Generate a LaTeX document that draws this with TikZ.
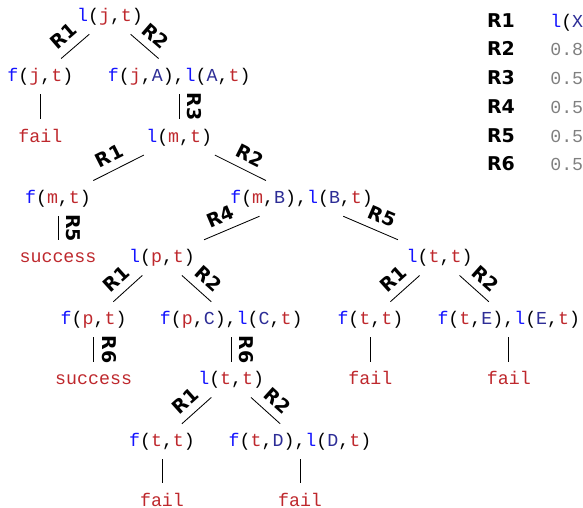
\documentclass[tikz,border=0pt]{standalone}
\usepackage{fontspec}
\newfontfamily\codefont{Liberation Mono}
\newfontfamily\rulefont{DejaVu Sans}
\definecolor{predblue}{RGB}{20,20,255}
\definecolor{constred}{RGB}{190,40,45}
\definecolor{varnavy}{RGB}{45,45,150}
\definecolor{numgray}{RGB}{128,128,128}
\newcommand{\pd}[1]{\textcolor{predblue}{#1}}
\newcommand{\cst}[1]{\textcolor{constred}{#1}}
\newcommand{\vrb}[1]{\textcolor{varnavy}{#1}}
\begin{document}
\begin{tikzpicture}[
        term/.style={font=\codefont\fontsize{13}{15}\selectfont, text height=10pt, text depth=3pt, inner xsep=8pt, inner ysep=6pt},
        outcome/.style={term, text=constred},
        rulefnt/.style={font=\rulefont\bfseries\fontsize{13.5}{16}\selectfont},
        rl/.style={rulefnt, sloped, above=4.5pt, inner sep=1pt},
        edge/.style={line width=0.6pt}
    ]
        \useasboundingbox (0,0) rectangle (14.575,-12.7);

        % Level 0-2
        \node[term] (ljt) at (2.75, -0.41) {\pd{l}(\cst{j},\cst{t})};
        \node[term] (fjt) at (1.01, -1.91) {\pd{f}(\cst{j},\cst{t})};
        \node[term] (fjA) at (4.48, -1.91) {\pd{f}(\cst{j},\vrb{A}),\pd{l}(\vrb{A},\cst{t})};
        \node[outcome] (fail1) at (1.01, -3.43) {fail};
        \node[term] (lmt) at (4.48, -3.43) {\pd{l}(\cst{m},\cst{t})};

        % Level 3-4
        \node[term] (fmt) at (1.45, -4.96) {\pd{f}(\cst{m},\cst{t})};
        \node[term] (fmB) at (7.54, -4.96) {\pd{f}(\cst{m},\vrb{B}),\pd{l}(\vrb{B},\cst{t})};
        \node[outcome] (succ1) at (1.45, -6.44) {success};
        \node[term] (lpt) at (4.05, -6.44) {\pd{l}(\cst{p},\cst{t})};
        \node[term] (lttr) at (10.99, -6.44) {\pd{l}(\cst{t},\cst{t})};

        % Level 5-6
        \node[term] (fpt) at (2.34, -7.99) {\pd{f}(\cst{p},\cst{t})};
        \node[term] (fpC) at (5.78, -7.99) {\pd{f}(\cst{p},\vrb{C}),\pd{l}(\vrb{C},\cst{t})};
        \node[term] (fttr) at (9.26, -7.99) {\pd{f}(\cst{t},\cst{t})};
        \node[term] (ftE) at (12.72, -7.99) {\pd{f}(\cst{t},\vrb{E}),\pd{l}(\vrb{E},\cst{t})};
        \node[outcome] (succ2) at (2.34, -9.49) {success};
        \node[term] (lttm) at (5.78, -9.49) {\pd{l}(\cst{t},\cst{t})};
        \node[outcome] (fail2) at (9.26, -9.49) {fail};
        \node[outcome] (fail3) at (12.72, -9.49) {fail};

        % Level 7-8
        \node[term] (fttl) at (4.05, -11.04) {\pd{f}(\cst{t},\cst{t})};
        \node[term] (ftD) at (7.5, -11.04) {\pd{f}(\cst{t},\vrb{D}),\pd{l}(\vrb{D},\cst{t})};
        \node[outcome] (fail4) at (4.05, -12.53) {fail};
        \node[outcome] (fail5) at (7.5, -12.53) {fail};

        % Edges
        \draw[edge] (ljt) -- node[rl, pos=0.55] {R1} (fjt);
        \draw[edge] (ljt) -- node[rl, pos=0.55] {R2} (fjA);
        \draw[edge] (fjt) -- (fail1);
        \draw[edge] (fjA) -- node[rl, allow upside down] {R3} (lmt);
        \draw[edge] (lmt) -- node[rl, pos=0.55] {R1} (fmt);
        \draw[edge] (lmt) -- node[rl, pos=0.55] {R2} (fmB);
        \draw[edge] (fmt) -- node[rl, allow upside down] {R5} (succ1);
        \draw[edge] (fmB) -- node[rl, pos=0.6] {R4} (lpt);
        \draw[edge] (fmB) -- node[rl, pos=0.6] {R5} (lttr);
        \draw[edge] (lpt) -- node[rl, pos=0.55] {R1} (fpt);
        \draw[edge] (lpt) -- node[rl, pos=0.55] {R2} (fpC);
        \draw[edge] (lttr) -- node[rl, pos=0.55] {R1} (fttr);
        \draw[edge] (lttr) -- node[rl, pos=0.55] {R2} (ftE);
        \draw[edge] (fpt) -- node[rl, allow upside down] {R6} (succ2);
        \draw[edge] (fpC) -- node[rl, allow upside down] {R6} (lttm);
        \draw[edge] (fttr) -- (fail2);
        \draw[edge] (ftE) -- (fail3);
        \draw[edge] (lttm) -- node[rl, pos=0.55] {R1} (fttl);
        \draw[edge] (lttm) -- node[rl, pos=0.55] {R2} (ftD);
        \draw[edge] (fttl) -- (fail4);
        \draw[edge] (ftD) -- (fail5);

        % Rule table (cut by the page edge)
        \node[rulefnt, anchor=base west, inner sep=0pt] (rule1) at (12.17, -0.683) {R1};
        \node[term, anchor=base west, inner sep=0pt, text height=, text depth=] (body1) at (13.75, -0.683) {\pd{l}(\vrb{X}};
        \foreach \k/\p [count=\n from 2] in {1.40/0.8, 2.118/0.5, 2.835/0.5, 3.553/0.5, 4.27/0.5} {
            \node[rulefnt, anchor=base west, inner sep=0pt] (rule\n) at (12.17, -\k) {R\n};
            \node[term, anchor=base west, inner sep=0pt, text height=, text depth=, text=numgray] (body\n) at (13.75, -\k) {\p};
        }
    \end{tikzpicture}
\end{document}
